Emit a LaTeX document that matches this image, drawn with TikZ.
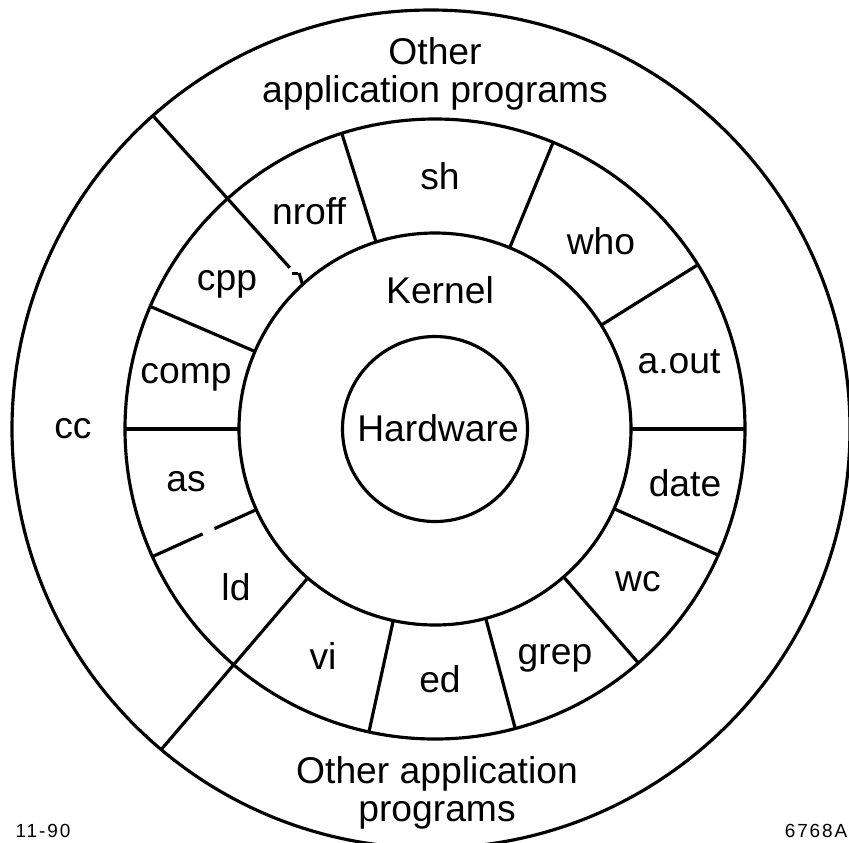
\documentclass[tikz,border=0pt]{standalone}
\usepackage{fontspec}
\setmainfont{Liberation Sans}
\newfontfamily\tagfont[LetterSpace=10]{Liberation Sans}

\tikzset{
	ring/.style = {line width=0.9pt},
	prog/.style = {font=\fontsize{10.6}{10.8}\selectfont, inner sep=0pt, align=center},
	tag/.style = {font=\tagfont\fontsize{5.4}{6}\selectfont, inner sep=0pt}
}

\begin{document}
\begin{tikzpicture}
		\useasboundingbox (-4.35,-4.13) rectangle (4.14,4.29);
		\draw[ring] (-0.04,0) circle (4.19);
		\draw[ring] (0,0) circle (3.10);
		\draw[ring] (0,0) circle (1.96);
		\draw[ring] (0,0) circle (0.925);
		\draw[ring] (107.5:1.96) -- (107.5:3.10);
		\draw[ring] (67.6:1.96) -- (67.6:3.10);
		\draw[ring] (32:1.96) -- (32:3.10);
		\draw[ring] (0:1.96) -- (0:3.10);
		\draw[ring] (-24:1.96) -- (-24:3.10);
		\draw[ring] (-49:1.96) -- (-49:3.10);
		\draw[ring] (-75:1.96) -- (-75:3.10);
		\draw[ring] (257.7:1.96) -- (257.7:3.10);
		\draw[ring] (229.5:1.96) -- (229.5:4.215);
		\draw[ring] (204.3:1.96) -- (204.3:2.42);
		\draw[ring] (204.3:2.55) -- (204.3:3.10);
		\draw[ring] (180:1.96) -- (180:3.10);
		\draw[ring] (156.7:1.96) -- (156.7:3.10);
		\draw[ring] (132:2.17) -- (132:4.215);
		\draw[ring] (-1.43,1.555) -- (-1.37,1.555);
		\draw[ring] (-1.36,1.56) -- (132.5:1.96);
		\node[prog] (top) at (0,3.55) {Other\\application programs};
		\node[prog] (bottom) at (0.02,-3.64) {Other application\\programs};
		\node[prog] (cc) at (-3.62,0) {cc};
		\node[prog] (sh) at (0.05,2.53) {sh};
		\node[prog] (nroff) at (-1.26,2.18) {nroff};
		\node[prog] (who) at (1.66,1.88) {who};
		\node[prog] (cpp) at (-2.08,1.45) {cpp};
		\node[prog] (kernel) at (0.05,1.39) {Kernel};
		\node[prog] (aout) at (2.44,0.67) {a.out};
		\node[prog] (comp) at (-2.49,0.52) {comp};
		\node[prog] (hw) at (0.03,0.01) {Hardware};
		\node[prog] (date) at (2.50,-0.54) {date};
		\node[prog] (as) at (-2.49,-0.53) {as};
		\node[prog] (ld) at (-1.99,-1.58) {ld};
		\node[prog] (wc) at (2.03,-1.53) {wc};
		\node[prog] (vi) at (-1.12,-2.27) {vi};
		\node[prog] (grep) at (1.20,-2.29) {grep};
		\node[prog] (ed) at (0.05,-2.50) {ed};
		\node[tag, anchor=base west] (month) at (-4.20,-4.08) {11-90};
		\node[tag, anchor=base east] (fig) at (4.13,-4.08) {6768A};
	\end{tikzpicture}
\end{document}
